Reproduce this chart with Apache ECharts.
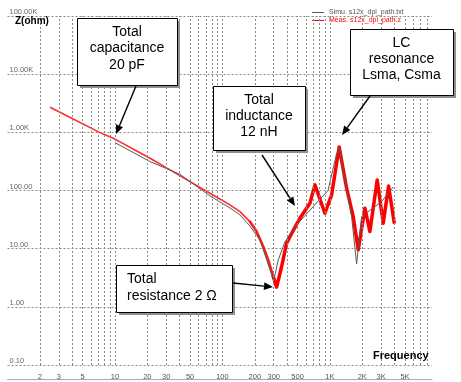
<!DOCTYPE html>
<html><head><meta charset="utf-8">
<script src="https://cdn.jsdelivr.net/npm/echarts@6/dist/echarts.min.js"></script>
<style>html,body{margin:0;padding:0;background:#fff}#c{width:461px;height:382px}</style>
</head><body><div id="c"></div>
<script>
// ---- axis ticks ----
const xTickValues = [2,3,5,10,20,30,50,100,200,300,500,1000,2000,3000,5000];
const xTickLabels = ['2','3','5','10','20','30','50','100','200','300','500','1K','2K','3K','5K'];
const xGridValues = [2,3,4,5,6,7,8,9,10,20,30,40,50,60,70,80,90,100,200,300,400,500,600,700,800,900,
                     1000,2000,3000,4000,5000,6000,7000,8000,9000];
const xMin = 1, xMax = 8912;
const yMin = 0.1, yMax = 100000;

// ---- series data (frequency, impedance) ----
const simName = 'Simu. s12x_dpi_path.txt';
const measName = 'Meas. s12x_dpi_path.z';
const simFreq = [10, 21.2, 40.2, 76.5, 117.6, 145.5, 180, 223.3, 257.8, 300, 330.4, 381.4, 490, 699, 960, 1150, 1220, 1430, 1592, 1772, 1972, 3026, 3881];
const simZ    = [665, 314, 190, 80.7, 50, 38, 24.6, 14.2, 6.42, 2.8, 6.42, 13, 25.6, 52.9, 100, 420, 540, 105, 35.6, 5.48, 35.6, 64.5, 115];
const measFreqLow = [2.49, 7.25, 10.0, 21.2, 32.5, 49.9, 76.5, 117.4, 145.5, 180];
const measZLow    = [2700, 988, 765, 359, 226, 142, 89.9, 56.6, 43.4, 29.2];
const measFreqMid = [180, 208, 239.6, 266.7, 296.9];
const measZMid    = [29.2, 19.7, 10.9, 6.42, 3.32];
const measFreqHigh = [296.9, 319.4, 355.3, 395.6, 424.6, 526, 651.6, 725.4, 898.5, 1037, 1220, 1430, 1647, 1834, 2117, 2356, 2754, 3133, 3516, 3963];
const measZHigh    = [3.32, 2.18, 4.93, 12.4, 16.1, 33.4, 60.5, 124.8, 40.7, 84.0, 560, 109.5, 35.6, 9.54, 49.6, 19.7, 152, 27.4, 120, 28.1];

const zip = (a, b) => a.map((v, i) => [v, b[i]]);

// ---- annotations ----
const boxes = [
  {x:77,  y:18,  w:100, h:67, lines:['Total','capacitance','20 pF'], align:'center', lh:16.7},
  {x:213, y:86,  w:92,  h:64, lines:['Total','inductance','12 nH'], align:'center', lh:16.4},
  {x:350, y:29,  w:103, h:66, lines:['LC','resonance','Lsma, Csma'], align:'center', lh:16.4},
  {x:116, y:265, w:116, h:47, lines:['Total','resistance 2 \u03A9'], align:'left', lh:17.4}
];
const arrows = [[136,86,116,134],[262,155,295,206],[370,96,342,135],[233,283,273,287]];

const graphics = [];
boxes.forEach(b => {
  graphics.push({type:'rect', shape:{x:b.x+3, y:b.y+3, width:b.w, height:b.h}, style:{fill:'#8f8f8f'}, z:50});
  graphics.push({type:'rect', shape:{x:b.x+0.5, y:b.y+0.5, width:b.w, height:b.h}, style:{fill:'#fff', stroke:'#000', lineWidth:1}, z:51});
  graphics.push({type:'text', x: b.align === 'center' ? b.x + b.w/2 : b.x + 11, y: b.y + 5.5, z:52,
    style:{text:b.lines.join('\n'), fill:'#000', fontSize:14, fontFamily:'Liberation Sans, Arial',
      align:b.align, verticalAlign:'top', lineHeight:b.lh}});
});
arrows.forEach(a => {
  const [x1,y1,x2,y2] = a;
  const dx = x2-x1, dy = y2-y1, L = Math.hypot(dx,dy), ux = dx/L, uy = dy/L;
  const hl = 9, hw = 3.8;
  const bx = x2 - ux*hl, by = y2 - uy*hl;
  graphics.push({type:'line', shape:{x1:x1, y1:y1, x2:bx, y2:by}, style:{stroke:'#000', lineWidth:1.4}, z:53});
  graphics.push({type:'polygon', shape:{points:[[x2,y2],[bx - uy*hw, by + ux*hw],[bx + uy*hw, by - ux*hw]]}, style:{fill:'#000'}, z:53});
});
graphics.push({type:'text', x:15, y:21, z:54, style:{text:'Z(ohm)', fill:'#000', fontSize:10, fontWeight:'bold', fontFamily:'Liberation Sans, Arial', verticalAlign:'middle'}});
graphics.push({type:'text', x:373, y:356, z:54, style:{text:'Frequency', fill:'#000', fontSize:11, fontWeight:'bold', fontFamily:'Liberation Sans, Arial', verticalAlign:'middle'}});

const gridStyle = {color:'#8a8a8a', width:1, type:[2,2]};

const option = {
  animation: false,
  backgroundColor: '#fff',
  grid: {left: 7.5, right: 29, top: 16, bottom: 17, containLabel: false},
  legend: {
    orient: 'vertical', left: 312, top: 8.5, itemGap: 0, padding: 0,
    icon: 'rect', itemWidth: 12, itemHeight: 1,
    textStyle: {fontSize: 7, fontFamily: 'Liberation Sans, Arial', padding: 0, lineHeight: 8},
    data: [{name: simName, textStyle: {color: '#555'}}, {name: measName, textStyle: {color: '#ff0000'}}]
  },
  xAxis: [
    {type: 'log', logBase: 10, min: xMin, max: xMax, show: false},
    {type: 'value', min: 0, max: Math.log10(xMax), position: 'bottom', offset: 14,
     axisLine: {show: true, lineStyle: {color: '#aaa', width: 1}},
     axisTick: {show: false}, splitLine: {show: false},
     axisLabel: {inside: true, margin: -1.5, fontSize: 7.5, color: '#555', fontFamily: 'Liberation Sans, Arial',
       customValues: xTickValues.map(v => Math.log10(v)),
       formatter: v => {
         const i = xTickValues.findIndex(f => Math.abs(Math.log10(f) - v) < 1e-6);
         return i >= 0 ? xTickLabels[i] : '';
       }}}
  ],
  yAxis: {
    type: 'log', logBase: 10, min: yMin, max: yMax,
    axisLine: {show: false}, axisTick: {show: false},
    splitLine: {show: true, lineStyle: gridStyle},
    axisLabel: {inside: true, margin: 2, verticalAlign: 'bottom', fontSize: 7.5, color: '#666',
      fontFamily: 'Liberation Sans, Arial',
      formatter: v => v >= 1000 ? (v/1000).toFixed(2) + 'K' : v.toFixed(2)}
  },
  graphic: graphics,
  series: [
    {type: 'line', name: 'grid', data: [], xAxisIndex: 0, yAxisIndex: 0, z: 1, silent: true,
     markLine: {silent: true, symbol: ['none','none'], label: {show: false}, animation: false,
       lineStyle: gridStyle, emphasis: {disabled: true},
       data: xGridValues.map(v => ({xAxis: v}))}},
    {type: 'line', name: simName, data: zip(simFreq, simZ), xAxisIndex: 0, yAxisIndex: 0,
     symbol: 'none', color: '#5a5a5a', lineStyle: {width: 1, color: '#5a5a5a'}, z: 4},
    {type: 'line', name: measName, data: zip(measFreqLow, measZLow), xAxisIndex: 0, yAxisIndex: 0,
     symbol: 'none', color: '#ff0000', lineStyle: {width: 1.6, color: '#ff2a2a'}, z: 3},
    {type: 'line', name: measName, data: zip(measFreqMid, measZMid), xAxisIndex: 0, yAxisIndex: 0,
     symbol: 'none', color: '#ff0000', lineStyle: {width: 2.6, color: '#ff1a1a', join: 'round', cap: 'round'}, z: 3},
    {type: 'line', name: measName, data: zip(measFreqHigh, measZHigh), xAxisIndex: 0, yAxisIndex: 0,
     symbol: 'none', color: '#ff0000', lineStyle: {width: 3.5, color: '#ff0000', join: 'round', cap: 'round'}, z: 3}
  ]
};
const chart = echarts.init(document.getElementById('c'), null, {renderer: 'canvas'});
chart.setOption(option);
</script></body></html>
